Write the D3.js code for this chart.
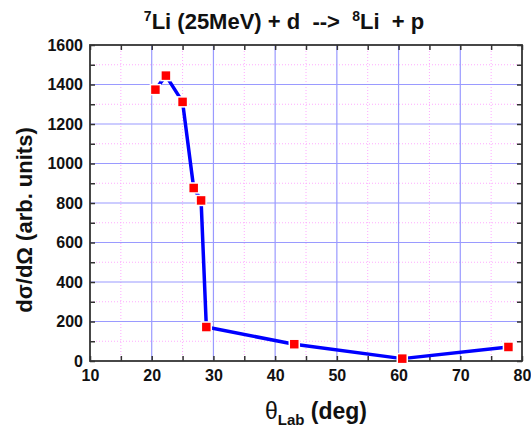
<!DOCTYPE html>
<html>
<head>
<meta charset="utf-8">
<script src="https://cdn.jsdelivr.net/npm/d3@7"></script>
<style>
  body { margin: 0; background: #fff; }
  text { font-family: "Liberation Sans", Arial, sans-serif; font-weight: bold; }
</style>
</head>
<body>
<div id="chart"></div>
<script>
// angles (deg) and cross sections (arb. units)
var theta = [20.6, 22.3, 25.0, 26.8, 28.0, 28.85, 43.1, 60.6, 77.8];
var sigma = [1374, 1445, 1312, 876, 813, 172, 85, 12, 71];
var xTicks = [10, 20, 30, 40, 50, 60, 70, 80];
var yTicks = [0, 200, 400, 600, 800, 1000, 1200, 1400, 1600];

var width = 531, height = 428;
var pLeft = 90, pRight = 522, pTop = 45, pBottom = 361;

var svg = d3.select("#chart").append("svg")
    .attr("width", width)
    .attr("height", height);

var x = d3.scaleLinear().domain([10, 80]).range([pLeft, pRight]);
var y = d3.scaleLinear().domain([0, 1600]).range([pBottom, pTop]);

// minor grid (pink dotted)
var grid = svg.append("g");
d3.range(15, 80, 10).forEach(function(v) {
  grid.append("line").attr("x1", x(v)).attr("x2", x(v)).attr("y1", pTop).attr("y2", pBottom)
      .attr("stroke", "#ffaaff").attr("stroke-width", 1).attr("stroke-dasharray", "1,2");
});
d3.range(100, 1600, 200).forEach(function(v) {
  grid.append("line").attr("x1", pLeft).attr("x2", pRight).attr("y1", y(v)).attr("y2", y(v))
      .attr("stroke", "#ffaaff").attr("stroke-width", 1).attr("stroke-dasharray", "1,2");
});
// major grid (blue)
xTicks.slice(1, -1).forEach(function(v) {
  grid.append("line").attr("x1", x(v)).attr("x2", x(v)).attr("y1", pTop).attr("y2", pBottom)
      .attr("stroke", "#9a9aff").attr("stroke-width", 1.2);
});
yTicks.slice(1, -1).forEach(function(v) {
  grid.append("line").attr("x1", pLeft).attr("x2", pRight).attr("y1", y(v)).attr("y2", y(v))
      .attr("stroke", "#9a9aff").attr("stroke-width", 1.2);
});

// axes with inward ticks
var xMinor = d3.range(10, 81, 5);
var yMinor = d3.range(0, 1601, 100);
function styleAxis(g) {
  g.selectAll("path").remove();
  g.selectAll("line").attr("stroke", "#333").attr("stroke-width", 1.5);
  g.selectAll("text").attr("fill", "#111").style("font-size", "16px");
}
svg.append("g").attr("transform", "translate(0," + pBottom + ")")
    .call(d3.axisBottom(x).tickValues(xMinor).tickSize(-5).tickPadding(9)
      .tickFormat(function(d) { return d % 10 === 0 ? d : ""; }))
    .call(styleAxis);
svg.append("g").attr("transform", "translate(0," + pTop + ")")
    .call(d3.axisTop(x).tickValues(xMinor).tickSize(-5).tickFormat(""))
    .call(styleAxis);
svg.append("g").attr("transform", "translate(" + pLeft + ",0)")
    .call(d3.axisLeft(y).tickValues(yMinor).tickSize(-5).tickPadding(7)
      .tickFormat(function(d) { return d % 200 === 0 ? d : ""; }))
    .call(styleAxis);
svg.append("g").attr("transform", "translate(" + pRight + ",0)")
    .call(d3.axisRight(y).tickValues(yMinor).tickSize(-5).tickFormat(""))
    .call(styleAxis);

svg.append("rect").attr("x", pLeft).attr("y", pTop)
    .attr("width", pRight - pLeft).attr("height", pBottom - pTop)
    .attr("fill", "none").attr("stroke", "#333").attr("stroke-width", 1.8);

// data line and markers
var line = d3.line().x(function(d, i) { return x(theta[i]); }).y(function(d) { return y(d); });
svg.append("path").datum(sigma).attr("d", line)
    .attr("fill", "none").attr("stroke", "#0000ff").attr("stroke-width", 3.5)
    .attr("stroke-linejoin", "round");
svg.selectAll(".pt").data(sigma).enter().append("rect")
    .attr("x", function(d, i) { return x(theta[i]) - 5; })
    .attr("y", function(d) { return y(d) - 5; })
    .attr("width", 10).attr("height", 10)
    .attr("fill", "#ff0000").attr("stroke", "#fff").attr("stroke-width", 1.5);

// title
var title = svg.append("text").attr("x", 284).attr("y", 29).attr("text-anchor", "middle")
    .style("font-size", "22px").attr("fill", "#111").style("white-space", "pre");
title.append("tspan").attr("dy", -8).style("font-size", "14px").text("7");
title.append("tspan").attr("dy", 8).text("Li (25MeV) + d  -->  ");
title.append("tspan").attr("dy", -8).style("font-size", "14px").text("8");
title.append("tspan").attr("dy", 8).text("Li  + p");

// axis labels
var xl = svg.append("text").attr("x", 316).attr("y", 419).attr("text-anchor", "middle")
    .style("font-size", "23px").attr("fill", "#111");
xl.append("tspan").text("θ").style("font-weight", "normal");
xl.append("tspan").attr("dy", 6).style("font-size", "15px").text("Lab");
xl.append("tspan").attr("dy", -6).text(" (deg)");

svg.append("text").attr("transform", "translate(32,220) rotate(-90)")
    .attr("text-anchor", "middle").style("font-size", "22px").attr("fill", "#111")
    .text("dσ/dΩ (arb. units)");
</script>
</body>
</html>
